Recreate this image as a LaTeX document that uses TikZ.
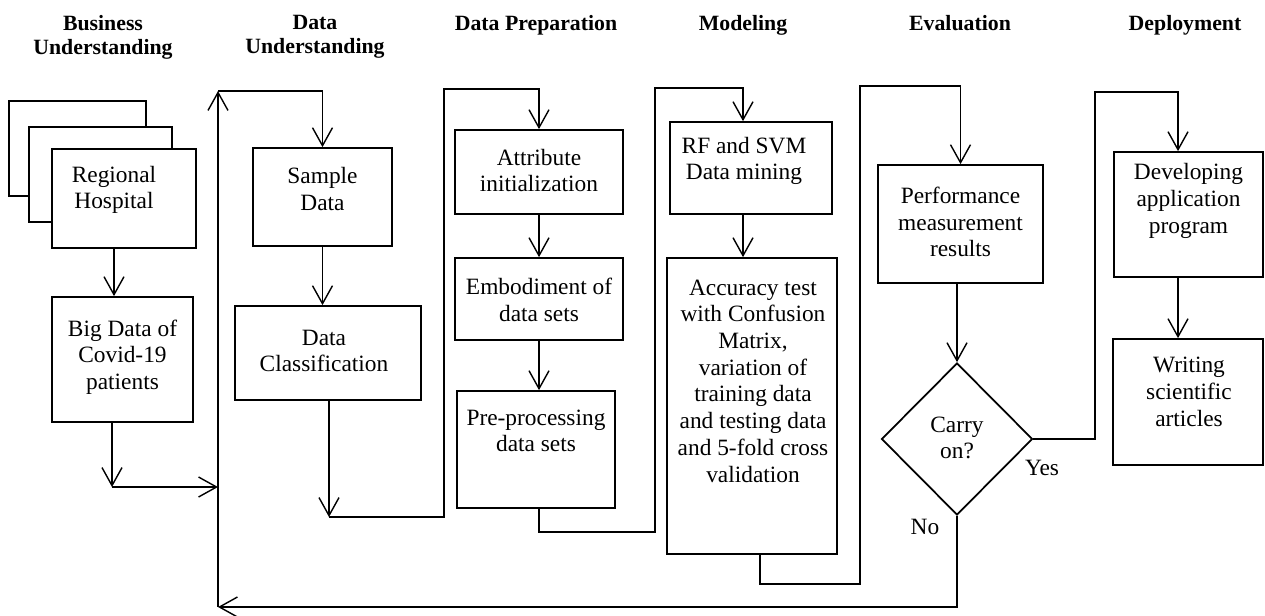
\documentclass[tikz,border=0pt]{standalone}
\usepackage{fontspec}
\setmainfont{Liberation Serif}
\usetikzlibrary{arrows.meta,positioning,shapes.geometric}

\begin{document}
\begin{tikzpicture}[
  x=0.2mm, y=-0.2mm,
  box/.style={draw,line width=1pt,inner sep=0pt},
  sz/.style 2 args={minimum width=#1*0.2mm,minimum height=#2*0.2mm},
  txt/.style={align=center,inner sep=0pt,font=\fontsize{13.3}{15.2}\selectfont},
  head/.style={align=center,inner sep=0pt,anchor=north,font=\fontsize{12.4}{13.6}\selectfont\bfseries},
  decision/.style={diamond,draw,line width=1pt,inner sep=0pt},
  flow/.style={line width=0.8pt},
  arr/.style={flow,-{Straight Barb[length=3.6mm,width=4mm]}}
]
\useasboundingbox (0,0) rectangle (1265,615);

% phase titles
\node[head] (h-bu) at (103,15) {Business\\Understanding};
\node[head] (h-du) at (315,15) {Data\\Understanding};
\node[head] (h-dp) at (536,15) {Data Preparation};
\node[head] (h-mo) at (743,15) {Modeling};
\node[head] (h-ev) at (960,15) {Evaluation};
\node[head] (h-de) at (1185,15) {Deployment};

% business understanding
\node[box,sz={137}{95}] (back1) at (77.5,148.5) {};
\node[box,sz={143}{95},fill=white] (back2) at (100.5,174.5) {};
\node[box,sz={144}{99},fill=white] (rh) at (124,198.5) {};
\node[txt] (rh-t) at (114,190) {Regional\\Hospital};
\node[box,sz={141}{125}] (bd) at (122.5,359.5) {};
\node[txt] (bd-t) at (122.5,357) {Big Data of\\Covid-19\\patients};

% data understanding
\node[box,sz={139}{98}] (sd) at (322.5,197) {};
\node[txt] (sd-t) at (322.5,189) {Sample\\Data};
\node[box,sz={186}{94}] (dc) at (328,353) {};
\node[txt] (dc-t) at (324,351) {Data\\Classification};

% data preparation
\node[box,sz={168}{84}] (ai) at (539,172) {};
\node[txt] (ai-t) at (539,170.5) {Attribute\\initialization};
\node[box,sz={168}{82}] (ed) at (539,299) {};
\node[txt] (ed-t) at (539,300) {Embodiment of\\data sets};
\node[box,sz={158}{117}] (pp) at (536,449.5) {};
\node[txt] (pp-t) at (536,431) {Pre-processing\\data sets};

% modeling
\node[box,sz={162}{92}] (rf) at (751,168) {};
\node[txt] (rf-t) at (744,161) {RF and SVM\\Data mining};
\node[box,sz={170}{296}] (acc) at (752,406) {};
\node[txt] (acc-t) at (753,381) {Accuracy test\\with Confusion\\Matrix,\\variation of\\training data\\and testing data\\and 5-fold cross\\validation};

% evaluation
\node[box,sz={165}{118}] (pm) at (960.5,224) {};
\node[txt] (pm-t) at (960.5,222) {Performance\\measurement\\results};
\node[decision,minimum width=151*0.2mm,minimum height=152*0.2mm] (dia) at (957,439) {};
\node[txt] (dia-t) at (957,438) {Carry\\on?};
\node[txt] (yes) at (1042,468) {Yes};
\node[txt] (no) at (925,527) {No};

% deployment
\node[box,sz={149}{125}] (dev) at (1188.5,214.5) {};
\node[txt] (dev-t) at (1188.5,201) {Developing\\application\\program};
\node[box,sz={150}{126}] (wr) at (1188,402) {};
\node[txt] (wr-t) at (1189,392) {Writing\\scientific\\articles};

% columns and corners of the flow lines
\coordinate (ax1) at (114,0);
\coordinate (ax4) at (743,0);
\coordinate (ax6) at (1178,0);
\coordinate (ret-top) at (218,91);
\coordinate (ret-bot) at (218,607);
\coordinate (bu-out) at (112,487);
\coordinate (du-out) at (329,517);
\coordinate (dp-up) at (444,89);
\coordinate (dp-low) at (539,532);
\coordinate (mo-up) at (655,88);
\coordinate (mo-low) at (760,584);
\coordinate (ev-up) at (860,86);
\coordinate (de-up) at (1095,92);

\draw[arr] (rh.south -| ax1) -- (bd.north -| ax1);
\draw[arr] (bd.south -| bu-out) -- (bu-out);
\draw[arr] (bu-out) -- (bu-out -| ret-top);
\draw[arr] (ret-bot) -- (ret-top);
\draw[arr] (ret-top) -| (sd.north);

\draw[arr] (sd.south) -- (sd.south |- dc.north);
\draw[arr] (dc.south -| du-out) -- (du-out);
\draw[arr] (du-out) -| (dp-up) -| (ai.north);

\draw[arr] (ai.south) -- (ed.north);
\draw[arr] (ed.south) -- (ed.south |- pp.north);
\draw[arr] (pp.south -| dp-low) -- (dp-low) -| (mo-up) -| (ax4 |- rf.north);

\draw[arr] (rf.south -| ax4) -- (acc.north -| ax4);
\draw[arr] (acc.south -| mo-low) -- (mo-low) -| (ev-up) -| (pm.north);

\draw[arr] (pm.south -| dia.north) -- (dia.north);
\draw[arr] (dia.east) -| (de-up) -| (ax6 |- dev.north);
\draw[arr] (dia.south) |- (ret-bot);

\draw[arr] (dev.south -| ax6) -- (wr.north -| ax6);
\end{tikzpicture}
\end{document}
